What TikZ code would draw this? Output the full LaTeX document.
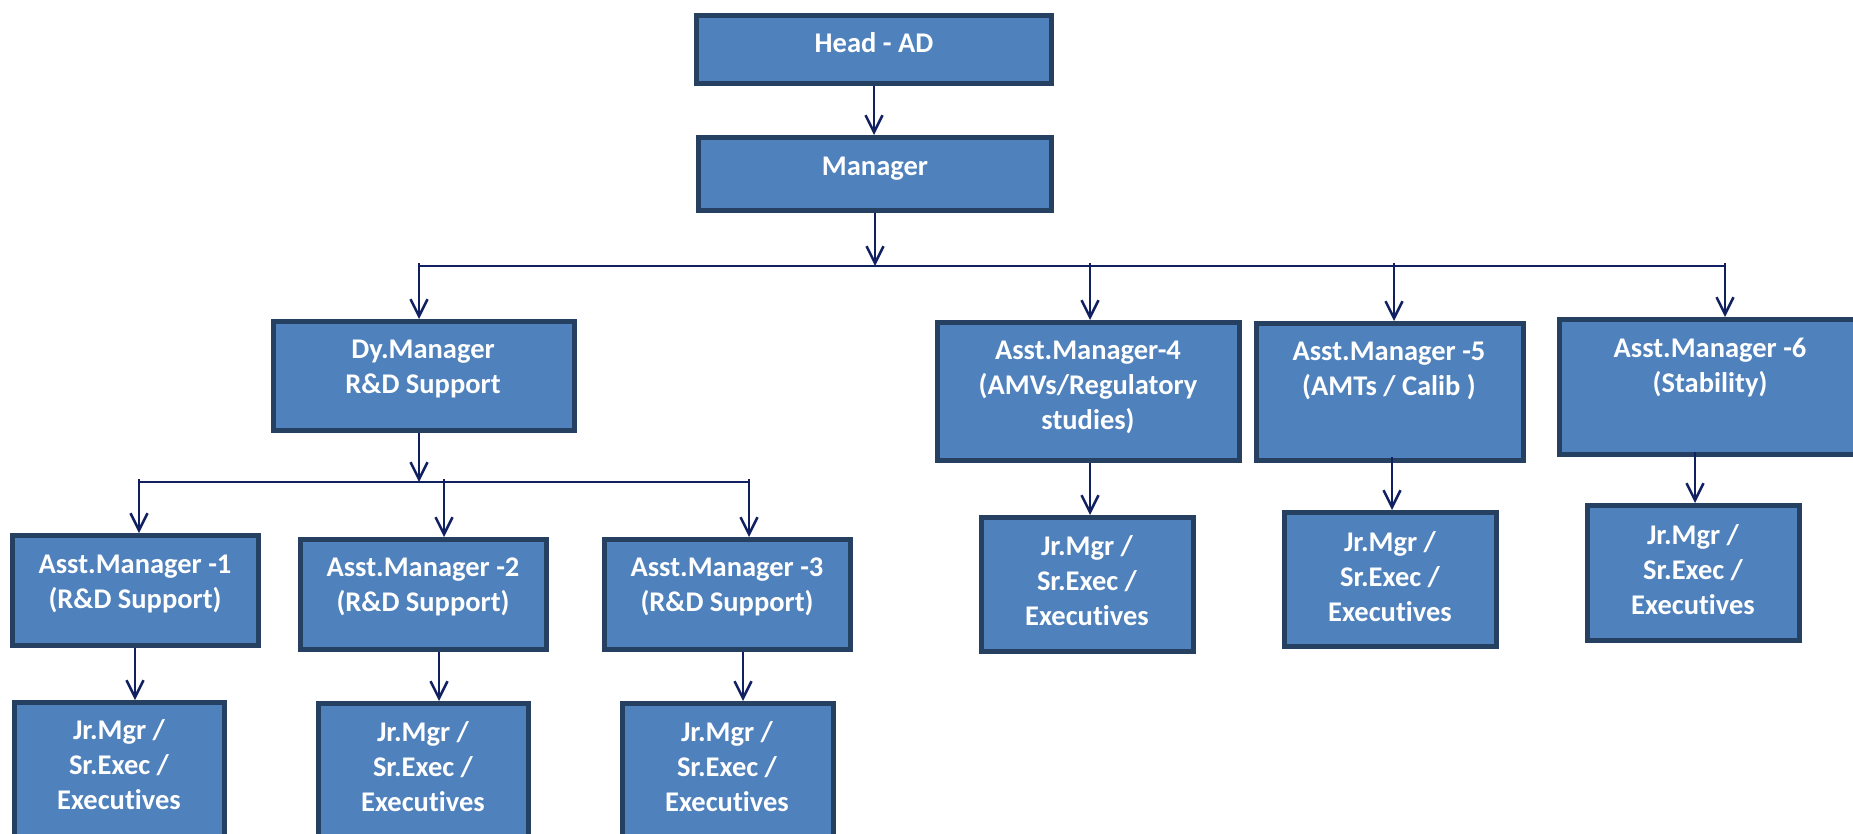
\documentclass[tikz,border=0pt]{standalone}
\usepackage{fontspec}
\setmainfont{Carlito}[Ligatures=NoCommon]
\usetikzlibrary{arrows.meta}
\definecolor{boxfill}{HTML}{4F81BD}
\definecolor{boxline}{HTML}{264062}
\definecolor{arrcol}{RGB}{16,32,96}
\newcommand\lst{\rule[-7pt]{0pt}{25pt}}
\tikzset{
 orgbox/.style={draw=boxline, fill=boxfill, line width=5pt, rectangle, inner sep=0pt},
 lbl/.style={text=white, font=\bfseries\fontsize{28.5}{35}\selectfont, align=center, inner sep=0pt, yshift=-3pt},
 conn/.style={draw=arrcol, line width=2.5pt},
 arr/.style={conn, -{Straight Barb[length=17pt,width=17pt]}}
}
\begin{document}
\begin{tikzpicture}[x=1pt,y=-1pt]
\clip (0,0) rectangle (1853,833);
% boxes
\node[orgbox, minimum width=355pt, minimum height=68pt] (h) at (874,49.5) {};
\node[orgbox, minimum width=353pt, minimum height=73pt] (m) at (875,174) {};
\node[orgbox, minimum width=301pt, minimum height=109pt] (dy) at (424,376) {};
\node[orgbox, minimum width=302pt, minimum height=138pt] (a4) at (1088.5,391.5) {};
\node[orgbox, minimum width=267pt, minimum height=137pt] (a5) at (1390,392) {};
\node[orgbox, minimum width=301pt, minimum height=135pt] (a6) at (1710,387) {};
\node[orgbox, minimum width=246pt, minimum height=110pt] (a1) at (135.5,590.5) {};
\node[orgbox, minimum width=246pt, minimum height=110pt] (a2) at (423.5,594.5) {};
\node[orgbox, minimum width=246pt, minimum height=110pt] (a3) at (727.5,594.5) {};
\node[orgbox, minimum width=210pt, minimum height=155pt] (j1) at (119.5,780) {};
\node[orgbox, minimum width=210pt, minimum height=155pt] (j2) at (423.5,781) {};
\node[orgbox, minimum width=211pt, minimum height=155pt] (j3) at (728,781) {};
\node[orgbox, minimum width=212pt, minimum height=134pt] (j4) at (1087.5,584.5) {};
\node[orgbox, minimum width=212pt, minimum height=134pt] (j5) at (1390.5,579.5) {};
\node[orgbox, minimum width=212pt, minimum height=135pt] (j6) at (1693.5,573) {};
% labels
\node[lbl] (ht) at (874,43) {\lst Head - AD};
\node[lbl] (mt) at (875,167) {\lst Manager};
\node[lbl] (dyt) at (423,367.5) {\lst Dy.Manager\\\lst R\&D Support};
\node[lbl] (a4t) at (1088,386) {\lst Asst.Manager-4\\\lst (AMVs/Regulatory\\\lst studies)};
\node[lbl] (a5t) at (1389,369.5) {\lst Asst.Manager -5\\\lst (AMTs / Calib )};
\node[lbl] (a6t) at (1710,365.5) {\lst Asst.Manager -6\\\lst (Stability)};
\node[lbl] (a1t) at (135,582.5) {\lst Asst.Manager -1\\\lst (R\&D Support)};
\node[lbl] (a2t) at (423,585.5) {\lst Asst.Manager -2\\\lst (R\&D Support)};
\node[lbl] (a3t) at (727,585.5) {\lst Asst.Manager -3\\\lst (R\&D Support)};
\node[lbl] (j1t) at (119,765) {\lst Jr.Mgr /\\\lst Sr.Exec /\\\lst Executives};
\node[lbl] (j2t) at (423,767) {\lst Jr.Mgr /\\\lst Sr.Exec /\\\lst Executives};
\node[lbl] (j3t) at (727,767) {\lst Jr.Mgr /\\\lst Sr.Exec /\\\lst Executives};
\node[lbl] (j4t) at (1087,581) {\lst Jr.Mgr /\\\lst Sr.Exec /\\\lst Executives};
\node[lbl] (j5t) at (1390,576.5) {\lst Jr.Mgr /\\\lst Sr.Exec /\\\lst Executives};
\node[lbl] (j6t) at (1693,570) {\lst Jr.Mgr /\\\lst Sr.Exec /\\\lst Executives};
% bus coordinates
\coordinate (b1m) at (875,266);
\coordinate (b1dy) at (419,263);
\coordinate (b1a4) at (1090,263);
\coordinate (b1a5) at (1394,263);
\coordinate (b1a6) at (1725,263);
\coordinate (b2dy) at (419,482);
\coordinate (b2a1) at (139,479);
\coordinate (b2a2) at (444,479);
\coordinate (b2a3) at (749,479);
% connectors
\draw[arr] (h.south) -- (h.south |- m.north);
\draw[arr] (m.south) -- (b1m);
\draw[conn] (b1dy |- b1m) -- (b1a6 |- b1m);
\draw[arr] (b1dy) -- (b1dy |- dy.north);
\draw[arr] (b1a4) -- (b1a4 |- a4.north);
\draw[arr] (b1a5) -- (b1a5 |- a5.north);
\draw[arr] (b1a6) -- (b1a6 |- a6.north);
\draw[arr] (b2dy |- dy.south) -- (b2dy);
\draw[conn] (b2a1 |- b2dy) -- (b2a3 |- b2dy);
\draw[arr] (b2a1) -- (b2a1 |- a1.north);
\draw[arr] (b2a2) -- (b2a2 |- a2.north);
\draw[arr] (b2a3) -- (b2a3 |- a3.north);
\draw[arr] ([xshift=-0.5pt]a1.south) -- ([xshift=-0.5pt]a1.south |- j1.north);
\draw[arr] ([xshift=15.5pt]a2.south) -- ([xshift=15.5pt]a2.south |- j2.north);
\draw[arr] ([xshift=15.5pt]a3.south) -- ([xshift=15.5pt]a3.south |- j3.north);
\draw[arr] ([xshift=1.5pt]a4.south) -- ([xshift=1.5pt]a4.south |- j4.north);
\draw[arr] ([xshift=2pt,yshift=6pt]a5.south) -- ([xshift=2pt]a5.south |- j5.north);
\draw[arr] ([xshift=-15pt,yshift=5pt]a6.south) -- ([xshift=-15pt]a6.south |- j6.north);
\end{tikzpicture}
\end{document}
